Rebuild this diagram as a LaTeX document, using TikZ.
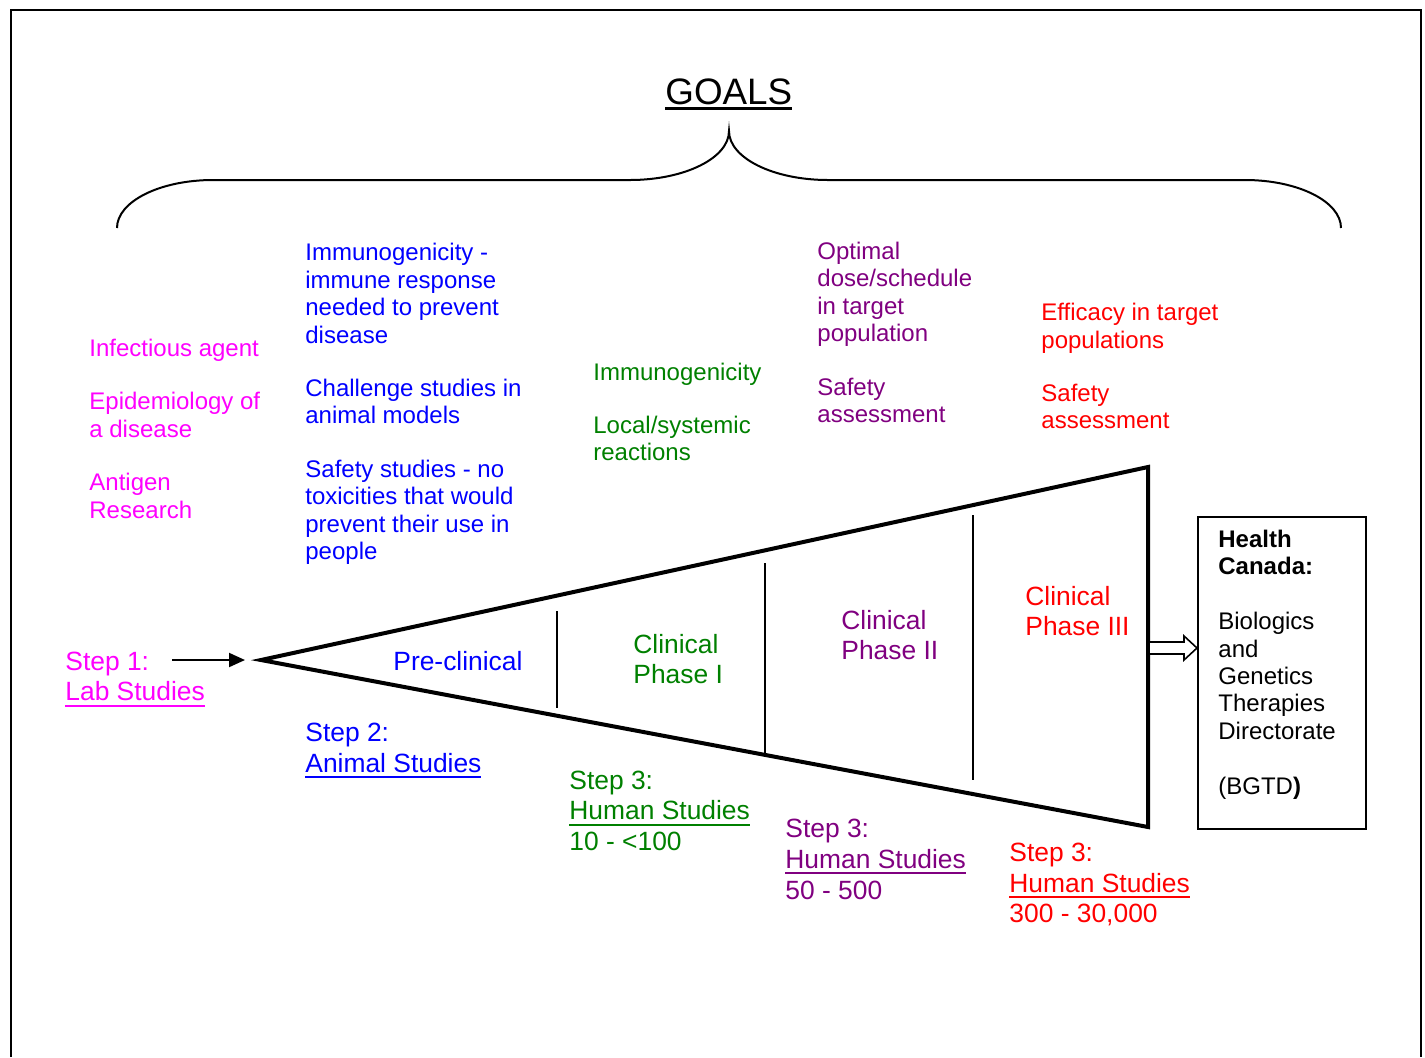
\documentclass[tikz,border=0pt]{standalone}
\usepackage{fontspec}
\setmainfont{Liberation Sans}
\usetikzlibrary{arrows.meta,calc}
\definecolor{labmag}{HTML}{FF00FF}
\definecolor{animblue}{HTML}{0000FF}
\definecolor{phonegreen}{HTML}{008000}
\definecolor{phtwopurple}{HTML}{800080}
\definecolor{phthreered}{HTML}{FF0000}
\newcommand\ulword[2][1pt]{\setbox0\hbox{#2}\rlap{\rule[-3pt]{\wd0}{#1}}\box0}

\begin{document}
\begin{tikzpicture}[x=0.5pt,y=-0.5pt,
  txt/.style={anchor=base west,inner sep=0pt,align=left,font=\fontsize{12}{13.75}\selectfont},
  big/.style={txt,font=\fontsize{13.2}{15.3}\selectfont},
  funnel/.style={line width=2pt,line join=miter},
  divider/.style={line width=1pt},
  steparrow/.style={line width=1pt,-{Triangle[length=8pt,width=7pt]}},
  hollow/.style={line width=0.8pt,fill=white,line join=miter}]
\useasboundingbox (0,0) rectangle (1425,1057);
\draw[line width=1.2pt] (11,1057) -- (11,10) -- (1421,10) -- (1421,1057);

\node[anchor=base west,inner sep=0pt,font=\fontsize{18.4}{22}\selectfont] (goals) at (665,104) {\ulword[1.3pt]{GOALS}};
\draw[line width=1pt] (117,228) .. controls (117,201.5) and (160,180) .. (213,180) -- (630,180)
  .. controls (684.7,180) and (729,158) .. (729,131)
  .. controls (729,158) and (773.3,180) .. (828,180) -- (1245,180)
  .. controls (1298,180) and (1341,201.5) .. (1341,228);

\node[txt,labmag] (lab goals) at (89,518.1) {Infectious agent\\[12.85pt]Epidemiology of\\a disease\\[12.85pt]Antigen\\Research};
\node[txt,animblue] (animal goals) at (305,559.6) {Immunogenicity -\\immune response\\needed to prevent\\disease\\[12.85pt]Challenge studies in\\animal models\\[12.85pt]Safety studies - no\\toxicities that would\\prevent their use in\\people};
\node[txt,phonegreen] (phase one goals) at (593,460.7) {Immunogenicity\\[12.85pt]Local/systemic\\reactions};
\node[txt,phtwopurple] (phase two goals) at (817,422.5) {Optimal\\dose/schedule\\in target\\population\\[12.85pt]Safety\\assessment};
\node[txt,phthreered] (phase three goals) at (1041,428.9) {Efficacy in target\\populations\\[12.85pt]Safety\\assessment};

\coordinate (apex) at (261,660);
\coordinate (top end) at (1148,467);
\coordinate (bottom end) at (1148,827);
\draw[funnel] (apex) -- (top end) -- (bottom end) -- cycle;
\draw[divider] (557,611) -- (557,708);
\draw[divider] (765,563) -- (765,755);
\draw[divider] (973,515) -- (973,780);

\node[big,labmag] (step one) at (65,700.6) {Step 1:\\\ulword{Lab Studies}};
\coordinate (lab arrow) at (172,660);
\coordinate (lab arrow end) at (245,660);
\draw[steparrow] (lab arrow) -- (lab arrow end);

\node[big,animblue] (preclinical) at (393,670) {Pre-clinical};
\node[big,animblue] (step two) at (305,772.3) {Step 2:\\\ulword{Animal Studies}};
\node[big,phonegreen] (phase one) at (633,683.9) {Clinical\\Phase I};
\node[big,phonegreen] (step three a) at (569,850.5) {Step 3:\\\ulword{Human Studies}\\10 - <100};
\node[big,phtwopurple] (phase two) at (841,659.9) {Clinical\\Phase II};
\node[big,phtwopurple] (step three b) at (785,899) {Step 3:\\\ulword{Human Studies}\\50 - 500};
\node[big,phthreered] (phase three) at (1025,635.6) {Clinical\\Phase III};
\node[big,phthreered] (step three c) at (1009,922.9) {Step 3:\\\ulword{Human Studies}\\300 - 30,000};

\node[draw,line width=1pt,inner sep=0pt,minimum width=84pt,minimum height=156pt,anchor=north west] (hc) at (1197,516) {};
\node[txt,font=\fontsize{12}{13.7}\selectfont] (hc text) at (1218,794) {\textbf{Health}\\\textbf{Canada:}\\[13.7pt]Biologics\\and\\Genetics\\Therapies\\Directorate\\[13.7pt](BGTD\textbf{)}};

\coordinate (arr tail) at (1150,648);
\coordinate (arr tip) at (hc.west |- arr tail);
\draw[hollow] ($(arr tail)+(0,-6)$) -- ($(arr tip)+(-13,-6)$) -- ($(arr tip)+(-13,-12)$) -- (arr tip)
  -- ($(arr tip)+(-13,12)$) -- ($(arr tip)+(-13,6)$) -- ($(arr tail)+(0,6)$);
\end{tikzpicture}
\end{document}
